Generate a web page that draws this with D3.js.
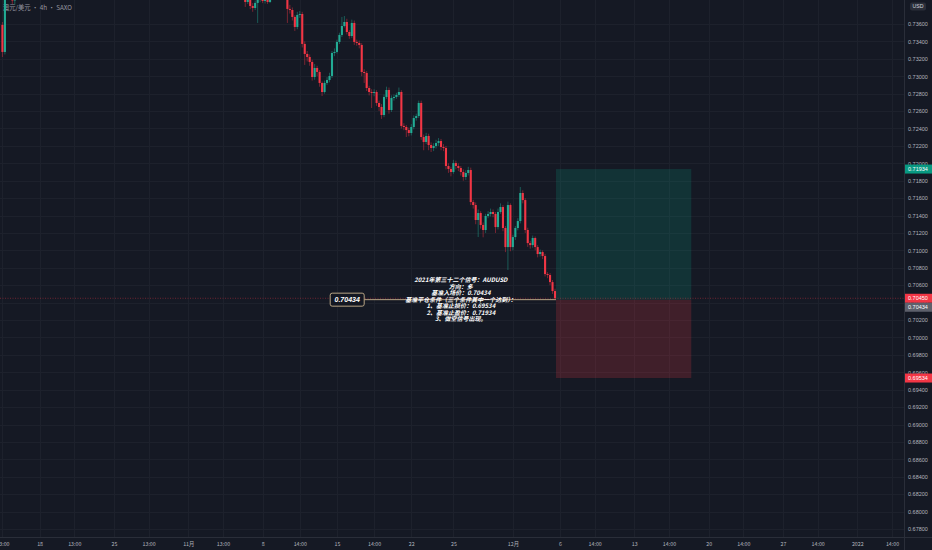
<!DOCTYPE html>
<html><head><meta charset="utf-8">
<script src="https://cdn.jsdelivr.net/npm/d3@7"></script>
<style>html,body{margin:0;padding:0;background:#151924;overflow:hidden}</style>
</head><body><svg id="c" width="932" height="550"></svg>
<script>
// ---------------- DATA ----------------
const title = "澳元/美元 · 4h · SAXO";
const currencyLabel = "USD";
const priceTicks = [0.736,0.734,0.732,0.730,0.728,0.726,0.724,0.722,0.720,0.718,0.716,0.714,0.712,0.710,0.708,0.706,0.704,0.702,0.700,0.698,0.696,0.694,0.692,0.690,0.688,0.686,0.684,0.682,0.680,0.678];
const timeTickIndex = [-15,0,14,30,44,60,74,90,105,120,135,150,167,191,210,224,240,254,270,284,300,314,330,344];
const timeTickLabels = ["13:00","18","13:00","25","13:00","11月","13:00","8","14:00","15","14:00","22","25","12月","6","14:00","13","14:00","20","14:00","27","14:00","2022","14:00"];

// early candles (left edge)
const leftStart = -15;
const leftOpen  = [0.73590,0.73279,0.73990,0.74100,0.73960,0.73870];
const leftHigh  = [0.73623,0.74050,0.74150,0.74200,0.74000,0.73950];
const leftLow   = [0.73221,0.73250,0.73900,0.73920,0.73830,0.73820];
const leftClose = [0.73279,0.73990,0.74100,0.73960,0.73870,0.73900];

// main candles
const mainStart = 81;
const mainOpen = [0.73960,0.73933,0.73910,0.73853,0.73922,0.73807,0.73784,0.73842,0.73887,0.73945,
0.73864,0.73887,0.73853,0.73933,0.73991,0.74014,0.73968,0.73991,0.73945,0.73968,
0.73773,0.73761,0.73681,0.73566,0.73704,0.73715,0.73371,0.73256,0.73221,0.73164,
0.72991,0.73095,0.73049,0.72923,0.72819,0.72923,0.72957,0.73003,0.73267,0.73279,
0.73394,0.73474,0.73577,0.73623,0.73508,0.73462,0.73612,0.73394,0.73382,0.73359,
0.73049,0.73037,0.72865,0.72819,0.72808,0.72819,0.72693,0.72647,0.72555,0.72762,
0.72842,0.72612,0.72750,0.72762,0.72785,0.72819,0.72429,0.72417,0.72382,0.72348,
0.72417,0.72520,0.72543,0.72693,0.72302,0.72245,0.72314,0.72210,0.72176,0.72199,
0.72233,0.72256,0.72187,0.72176,0.71969,0.71935,0.71900,0.72003,0.71969,0.71946,
0.71900,0.71843,0.71889,0.71923,0.71555,0.71521,0.71349,0.71429,0.71292,0.71234,
0.71395,0.71418,0.71441,0.71418,0.71268,0.71441,0.71498,0.71257,0.71038,0.71521,
0.71038,0.71153,0.71257,0.71337,0.71659,0.71578,0.71234,0.71084,0.71061,0.71142,
0.71038,0.70958,0.70981,0.70935,0.70728,0.70717,0.70636,0.70533];
const mainHigh = [0.74010,0.73980,0.73950,0.73960,0.73950,0.73840,0.73870,0.73920,0.73990,0.73970,
0.73910,0.73905,0.73960,0.74030,0.74060,0.74040,0.74030,0.74010,0.74000,0.73990,
0.73820,0.73790,0.73700,0.73740,0.73750,0.73740,0.73400,0.73290,0.73250,0.73190,
0.73140,0.73120,0.73070,0.72940,0.72950,0.72990,0.73040,0.73290,0.73320,0.73420,
0.73500,0.73681,0.73692,0.73660,0.73530,0.73650,0.73640,0.73420,0.73410,0.73380,
0.73080,0.73060,0.72890,0.72850,0.72850,0.72840,0.72720,0.72680,0.72790,0.72880,
0.72870,0.72780,0.72790,0.72810,0.72870,0.72840,0.72460,0.72440,0.72410,0.72450,
0.72550,0.72570,0.72720,0.72720,0.72330,0.72350,0.72340,0.72240,0.72230,0.72270,
0.72290,0.72280,0.72220,0.72200,0.72000,0.71960,0.72040,0.72030,0.72000,0.71970,
0.71930,0.71920,0.71960,0.71950,0.71580,0.71550,0.71470,0.71450,0.71320,0.71420,
0.71450,0.71480,0.71470,0.71440,0.71480,0.71540,0.71520,0.71280,0.71560,0.71540,
0.71180,0.71280,0.71370,0.71728,0.71690,0.71600,0.71260,0.71110,0.71170,0.71160,
0.71060,0.71010,0.71000,0.70960,0.70750,0.70740,0.70660,0.70560];
const mainLow = [0.73900,0.73880,0.73796,0.73830,0.73770,0.73740,0.73760,0.73612,0.73850,0.73840,
0.73835,0.73830,0.73840,0.73910,0.73960,0.73930,0.73940,0.73910,0.73920,0.73612,
0.73720,0.73640,0.73520,0.73540,0.73670,0.73330,0.73130,0.73170,0.73120,0.72950,
0.72960,0.73000,0.72880,0.72773,0.72800,0.72900,0.72930,0.72980,0.73230,0.73260,
0.73370,0.73450,0.73560,0.73480,0.73430,0.73440,0.73360,0.73350,0.73320,0.73000,
0.72923,0.72830,0.72780,0.72635,0.72770,0.72660,0.72600,0.72510,0.72530,0.72740,
0.72570,0.72590,0.72720,0.72740,0.72760,0.72400,0.72380,0.72302,0.72310,0.72320,
0.72390,0.72490,0.72520,0.72270,0.72150,0.72220,0.72150,0.72130,0.72140,0.72170,
0.72200,0.72150,0.72140,0.71930,0.71890,0.71850,0.71880,0.71930,0.71910,0.71860,
0.71800,0.71810,0.71860,0.71520,0.71480,0.71300,0.71153,0.71250,0.71150,0.71200,
0.71370,0.71390,0.71380,0.71200,0.71240,0.71420,0.71220,0.70980,0.70775,0.70990,
0.71000,0.71120,0.71230,0.71310,0.71540,0.71200,0.71040,0.71020,0.71030,0.71000,
0.70920,0.70930,0.70900,0.70700,0.70680,0.70600,0.70500,0.70434];
const mainClose = [0.73933,0.73910,0.73853,0.73922,0.73807,0.73784,0.73842,0.73887,0.73945,0.73864,
0.73887,0.73853,0.73933,0.73991,0.74014,0.73968,0.73991,0.73945,0.73968,0.73773,
0.73761,0.73681,0.73566,0.73704,0.73715,0.73371,0.73256,0.73221,0.73164,0.72991,
0.73095,0.73049,0.72923,0.72819,0.72923,0.72957,0.73003,0.73267,0.73279,0.73394,
0.73474,0.73577,0.73623,0.73508,0.73462,0.73612,0.73394,0.73382,0.73359,0.73049,
0.73037,0.72865,0.72819,0.72808,0.72819,0.72693,0.72647,0.72555,0.72762,0.72842,
0.72612,0.72750,0.72762,0.72785,0.72819,0.72429,0.72417,0.72382,0.72348,0.72417,
0.72520,0.72543,0.72693,0.72302,0.72245,0.72314,0.72210,0.72176,0.72199,0.72233,
0.72256,0.72187,0.72176,0.71969,0.71935,0.71900,0.72003,0.71969,0.71946,0.71900,
0.71843,0.71889,0.71923,0.71555,0.71521,0.71349,0.71429,0.71292,0.71234,0.71395,
0.71418,0.71441,0.71418,0.71268,0.71441,0.71498,0.71257,0.71038,0.71521,0.71038,
0.71153,0.71257,0.71337,0.71659,0.71578,0.71234,0.71084,0.71061,0.71142,0.71038,
0.70958,0.70981,0.70935,0.70728,0.70717,0.70636,0.70533,0.70450];

// trade setup
const entryPrice = 0.70434;
const stopPrice = 0.69534;
const targetPrice = 0.71934;
const lastPrice = 0.70450;
const positionStartIndex = 208.4;
const positionEndIndex = 263;
const entryLabelIndex = 131;
const noteIndex = 170;
const noteLines = ["2021年第三十二个信号：AUDUSD","方向：多","基准入场价：0.70434","基准平仓条件（三个条件其中一个达到）：","1、基准止损价：0.69534","2、基准止盈价：0.71934","3、做空信号出现。"];

// ---------------- DRAW ----------------
const W = 932, H = 550, plotR = 904, plotB = 537;
const UP = "#22ab94", DOWN = "#f23645";
const svg = d3.select("#c");
const x = d3.scaleLinear().domain([0, 208]).range([39.6, 555]);
const y = d3.scaleLinear().domain([0.678, 0.736]).range([529, 24]);
const crisp = v => Math.round(v) + 0.5;

svg.append("rect").attr("width", W).attr("height", H).attr("fill", "#151924");
svg.append("defs").append("clipPath").attr("id", "plot")
  .append("rect").attr("x", 0).attr("y", 0).attr("width", plotR).attr("height", plotB);

// grid
const grid = svg.append("g").attr("clip-path", "url(#plot)");
grid.selectAll("line.h").data(priceTicks).join("line").attr("class", "h")
  .attr("x1", 0).attr("x2", plotR).attr("y1", d => crisp(y(d))).attr("y2", d => crisp(y(d)))
  .attr("stroke", "#1d212c").attr("stroke-width", 1);
grid.selectAll("line.v").data(timeTickIndex).join("line").attr("class", "v")
  .attr("y1", 0).attr("y2", plotB).attr("x1", d => crisp(x(d))).attr("x2", d => crisp(x(d)))
  .attr("stroke", "#1d212c").attr("stroke-width", 1);

// title
svg.append("text").attr("x", 3).attr("y", 10).text(title)
  .attr("font-family", "'Noto Sans CJK SC', 'Liberation Sans', sans-serif")
  .attr("font-size", 6.3).attr("fill", "#9598a1");

// candles
const candles = [];
leftOpen.forEach((o, k) => candles.push({i: leftStart + k, o, h: leftHigh[k], l: leftLow[k], c: leftClose[k]}));
mainOpen.forEach((o, k) => candles.push({i: mainStart + k, o, h: mainHigh[k], l: mainLow[k], c: mainClose[k]}));

// position boxes
const pos = svg.append("g").attr("clip-path", "url(#plot)");
pos.append("rect").attr("x", x(positionStartIndex)).attr("width", x(positionEndIndex) - x(positionStartIndex))
  .attr("y", y(targetPrice)).attr("height", y(entryPrice) - y(targetPrice)).attr("fill", "rgba(8,153,129,0.2)");
pos.append("rect").attr("x", x(positionStartIndex)).attr("width", x(positionEndIndex) - x(positionStartIndex))
  .attr("y", y(entryPrice)).attr("height", y(stopPrice) - y(entryPrice)).attr("fill", "rgba(242,54,69,0.2)");

// last price dotted line
pos.append("line").attr("x1", 0).attr("x2", plotR).attr("y1", y(lastPrice)).attr("y2", y(lastPrice))
  .attr("stroke", DOWN).attr("stroke-opacity", 0.5).attr("stroke-width", 0.8).attr("stroke-dasharray", "1,1.5");

const cg = svg.append("g").attr("clip-path", "url(#plot)");
cg.selectAll("line.w").data(candles).join("line").attr("class", "w")
  .attr("x1", d => x(d.i)).attr("x2", d => x(d.i)).attr("y1", d => y(d.h)).attr("y2", d => y(d.l))
  .attr("stroke", d => d.c >= d.o ? UP : DOWN).attr("stroke-opacity", 0.5).attr("stroke-width", 0.9);
cg.selectAll("rect.b").data(candles).join("rect").attr("class", "b")
  .attr("x", d => x(d.i) - 1.05).attr("width", 2.1)
  .attr("y", d => y(Math.max(d.o, d.c)))
  .attr("height", d => Math.max(0.8, Math.abs(y(d.o) - y(d.c))))
  .attr("fill", d => d.c >= d.o ? UP : DOWN);

// entry line + label
const eY = y(entryPrice);
pos.append("line").attr("x1", x(entryLabelIndex)).attr("x2", x(positionStartIndex)).attr("y1", eY).attr("y2", eY)
  .attr("stroke", "#c9b38f").attr("stroke-width", 0.9);
const lblW = 34, lblH = 13;
svg.append("rect").attr("x", x(entryLabelIndex) - lblW).attr("y", eY - lblH / 2).attr("width", lblW).attr("height", lblH)
  .attr("rx", 2).attr("fill", "#131722").attr("stroke", "#c9b38f").attr("stroke-width", 0.9);
svg.append("text").attr("x", x(entryLabelIndex) - lblW / 2).attr("y", eY).attr("dy", "0.35em")
  .attr("text-anchor", "middle").text(entryPrice.toFixed(5))
  .attr("font-family", "'Liberation Sans', Arial, sans-serif").attr("font-size", 7).attr("font-style", "italic")
  .attr("font-weight", "bold").attr("fill", "#ffffff");

// note text
svg.append("g").selectAll("text").data(noteLines).join("text")
  .attr("x", x(noteIndex)).attr("y", (d, k) => eY + (k - 3) * 6.45).attr("dy", "0.35em")
  .attr("text-anchor", "middle").text(d => d)
  .attr("font-family", "'Noto Sans CJK SC', 'Liberation Sans', sans-serif")
  .attr("font-size", 6.0).attr("font-weight", "bold").attr("font-style", "italic")
  .attr("fill", "#ffffff");

// axes
svg.append("line").attr("x1", crisp(plotR)).attr("x2", crisp(plotR)).attr("y1", 0).attr("y2", H).attr("stroke", "#2a2e39");
svg.append("line").attr("x1", 0).attr("x2", W).attr("y1", crisp(plotB)).attr("y2", crisp(plotB)).attr("stroke", "#2a2e39");

const yAxis = svg.append("g").attr("transform", `translate(${plotR},0)`)
  .call(d3.axisRight(y).tickValues(priceTicks).tickFormat(d3.format(".5f")).tickSize(0).tickPadding(4));
yAxis.select(".domain").remove();
yAxis.selectAll("text").attr("font-family", "'Liberation Sans', Arial, sans-serif").attr("font-size", 5.5).attr("fill", "#b2b5be");

const xAxis = svg.append("g").attr("transform", `translate(0,${plotB})`)
  .call(d3.axisBottom(x).tickValues(timeTickIndex).tickFormat((d, k) => timeTickLabels[k]).tickSize(0).tickPadding(5));
xAxis.select(".domain").remove();
xAxis.selectAll("text").attr("font-family", "'Noto Sans CJK SC', 'Liberation Sans', sans-serif").attr("font-size", 5.3).attr("fill", "#b2b5be");

// currency tag
svg.append("rect").attr("x", 910).attr("y", 2.5).attr("width", 16).attr("height", 8).attr("rx", 2).attr("fill", "#2a2e39");
svg.append("text").attr("x", 918).attr("y", 6.6).attr("dy", "0.35em").attr("text-anchor", "middle").text(currencyLabel)
  .attr("font-family", "'Liberation Sans', Arial, sans-serif").attr("font-size", 5.2).attr("fill", "#d1d4dc");

// price tags
const tags = [
  {v: targetPrice, cy: y(targetPrice), fill: "#089981"},
  {v: lastPrice, cy: y(lastPrice), fill: DOWN},
  {v: entryPrice, cy: y(lastPrice) + 9, fill: "#5d606b"},
  {v: stopPrice, cy: y(stopPrice), fill: DOWN}
];
const tg = svg.append("g").selectAll("g").data(tags).join("g");
tg.append("rect").attr("x", plotR + 1).attr("y", d => d.cy - 4.5).attr("width", W - plotR - 1).attr("height", 9).attr("fill", d => d.fill);
tg.append("text").attr("x", plotR + 4).attr("y", d => d.cy).attr("dy", "0.35em").text(d => d.v.toFixed(5))
  .attr("font-family", "'Liberation Sans', Arial, sans-serif").attr("font-size", 5.5).attr("fill", "#ffffff");
</script></body></html>
